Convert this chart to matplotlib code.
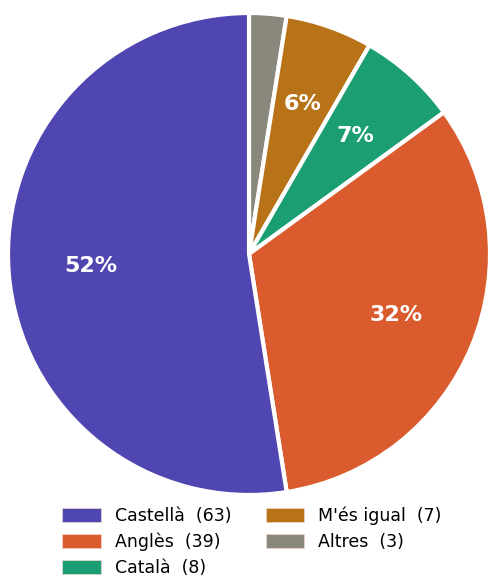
import matplotlib
matplotlib.use('Agg')
import matplotlib.pyplot as plt
from matplotlib.patches import Patch

# data (clockwise from 12 o'clock)
labels = ['Altres', "M'és igual", 'Català', 'Anglès', 'Castellà']
counts = [3, 7, 8, 39, 63]
colors = ['#8a887c', '#b87318', '#1b9e74', '#d95b2e', '#5046b2']

fig = plt.figure(figsize=(4.89, 5.77), dpi=100)
W, H = 489, 577
cx, cy, r = 249, 254, 241
ax = fig.add_axes([(cx - r) / W, (H - cy - r) / H, 2 * r / W, 2 * r / H])

def pct_label(p):
    return '%d%%' % round(p) if p >= 3 else ''

wedges, texts, autotexts = ax.pie(
    counts, colors=colors, startangle=90, counterclock=False,
    autopct=pct_label, pctdistance=0.66, radius=1,
    wedgeprops=dict(edgecolor='white', linewidth=3),
    textprops=dict(color='white', fontsize=16, fontweight='bold'))
ax.set_xlim(-1, 1)
ax.set_ylim(-1, 1)
ax.set_aspect('equal')

order = [4, 3, 2, 1, 0]
handles = [Patch(facecolor=colors[i], edgecolor='#f4d6cc', linewidth=0.5) for i in order]
leg_labels = ['%s  (%d)' % (labels[i], counts[i]) for i in order]
fig.legend(handles, leg_labels, ncol=2, loc='lower center',
           bbox_to_anchor=(0.515, -0.027), frameon=False, fontsize=12.5,
           handlelength=2.2, handleheight=0.85, handletextpad=0.8,
           columnspacing=2.0, labelspacing=0.45)

fig.savefig('out.png', dpi=100)
